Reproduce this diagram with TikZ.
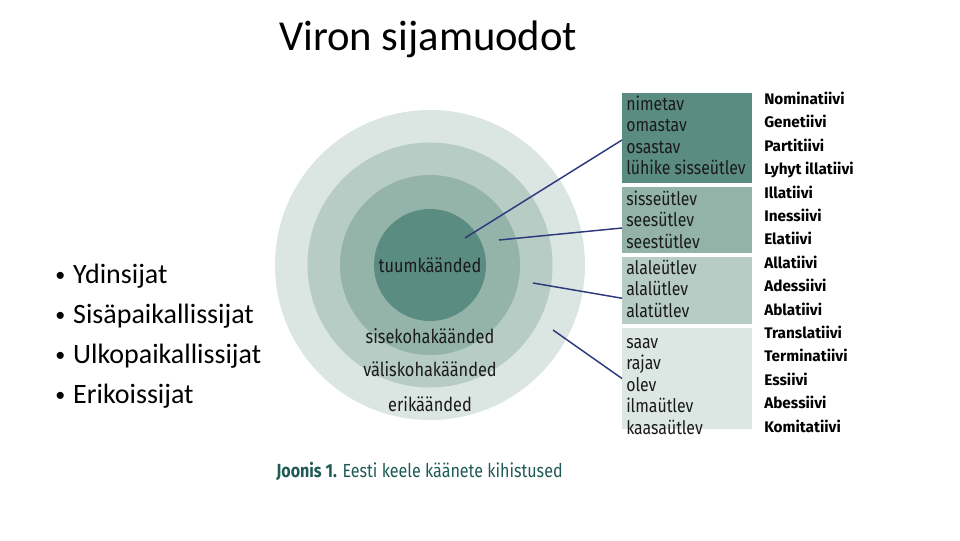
\documentclass[tikz,border=0pt]{standalone}
\usepackage{fontspec}
\setmainfont{Carlito}
\newfontfamily\boxfont[FakeStretch=0.85]{Fira Sans}
\newfontfamily\listfont{Fira Sans}
\definecolor{ringA}{HTML}{DBE5E1}
\definecolor{ringB}{HTML}{B7CCC5}
\definecolor{ringC}{HTML}{94B3A9}
\definecolor{ringD}{HTML}{5B8C81}
\definecolor{boxA}{HTML}{5B8C81}
\definecolor{boxB}{HTML}{93B3A9}
\definecolor{boxC}{HTML}{B6CCC5}
\definecolor{boxD}{HTML}{DCE6E2}
\definecolor{navy}{HTML}{2D3A7C}
\definecolor{captiongreen}{HTML}{1F5A55}
\definecolor{ink}{HTML}{1A1A1A}
\newcommand{\bulletmark}{\raisebox{1.2pt}{\fontsize{15}{18}\selectfont •}\hspace{6pt}}
\tikzset{
  ring/.style={circle, inner sep=0pt, outer sep=0pt, draw=none},
  casebox/.style={rectangle, anchor=north west, inner sep=0pt, outer sep=0pt, minimum width=97.5pt},
  boxtext/.style={anchor=north west, inner sep=0pt, align=left, font=\boxfont\fontsize{14}{16.1}\selectfont, text=ink},
  ringlabel/.style={anchor=base, inner sep=0pt, font=\boxfont\fontsize{14.4}{16}\selectfont, text=ink},
  caselist/.style={anchor=base west, inner sep=0pt, font=\listfont\bfseries\fontsize{11.5}{12}\selectfont, text=black},
  bullet/.style={anchor=base west, inner sep=0pt, font=\fontsize{21}{24}\selectfont, text=black},
  link/.style={draw=navy, line width=1.1pt}
}
\begin{document}
\begin{tikzpicture}[x=0.75pt,y=-0.75pt]
\useasboundingbox (0,0) rectangle (960,540);
% title
\node[anchor=base west, inner sep=0pt, font=\fontsize{32}{36}\selectfont] (title) at (279,50) {Viron sijamuodot};
% bullets
\node[bullet] (l1) at (55,283) {\bulletmark Ydinsijat};
\node[bullet] (l2) at (55,323) {\bulletmark Sisäpaikallissijat};
\node[bullet] (l3) at (55,363) {\bulletmark Ulkopaikallissijat};
\node[bullet] (l4) at (55,403) {\bulletmark Erikoissijat};
% circles
\node[ring, fill=ringA, minimum size=232.5pt] (cA) at (430,265) {};
\node[ring, fill=ringB, minimum size=183.75pt] (cB) at (430,265) {};
\node[ring, fill=ringC, minimum size=135pt] (cC) at (430,265) {};
\node[ring, fill=ringD, minimum size=84pt] (cD) at (430,265) {};
\node[ringlabel] (tD) at (430,272) {tuumkäänded};
\node[ringlabel] (tC) at (430,343) {sisekohakäänded};
\node[ringlabel] (tB) at (430,376) {väliskohakäänded};
\node[ringlabel] (tA) at (430,411) {erikäänded};
% boxes
\node[casebox, fill=boxA, minimum height=67.5pt] (b1) at (622,93) {};
\node[casebox, fill=boxB, minimum height=49.5pt] (b2) at (622,187) {};
\node[casebox, fill=boxC, minimum height=50.25pt] (b3) at (622,257) {};
\node[casebox, fill=boxD, minimum height=75.75pt] (b4) at (622,328) {};
\node[boxtext] (x1) at (626,95) {\strut nimetav\\omastav\\osastav\\lühike sisseütlev};
\node[boxtext] (x2) at (626,190) {\strut sisseütlev\\seesütlev\\seestütlev};
\node[boxtext] (x3) at (626,259) {\strut alaleütlev\\alalütlev\\alatütlev};
\node[boxtext] (x4) at (626,333) {\strut saav\\rajav\\olev\\ilmaütlev\\kaasaütlev};
% connectors
\coordinate (p1) at (465,238);
\coordinate (p2) at (499,240);
\coordinate (p3) at (533,283);
\coordinate (p4) at (553,330);
\draw[link] (p1) -- ([yshift=-1.5pt]b1.west);
\draw[link] (p2) -- ([yshift=-6pt]b2.west);
\draw[link] (p3) -- ([yshift=-5.8pt]b3.west);
\draw[link] (p4) -- (b4.west);
% case list
\node[caselist] (n1) at (764,104.5) {Nominatiivi};
\node[caselist] (n2) at (764,127.9) {Genetiivi};
\node[caselist] (n3) at (764,151.3) {Partitiivi};
\node[caselist] (n4) at (764,174.7) {Lyhyt illatiivi};
\node[caselist] (n5) at (764,198.1) {Illatiivi};
\node[caselist] (n6) at (764,221.5) {Inessiivi};
\node[caselist] (n7) at (764,244.9) {Elatiivi};
\node[caselist] (n8) at (764,268.3) {Allatiivi};
\node[caselist] (n9) at (764,291.7) {Adessiivi};
\node[caselist] (n10) at (764,315.1) {Ablatiivi};
\node[caselist] (n11) at (764,338.5) {Translatiivi};
\node[caselist] (n12) at (764,361.9) {Terminatiivi};
\node[caselist] (n13) at (764,385.3) {Essiivi};
\node[caselist] (n14) at (764,408.7) {Abessiivi};
\node[caselist] (n15) at (764,432.1) {Komitatiivi};
% caption
\node[anchor=base west, inner sep=0pt, font=\boxfont\fontsize{14.2}{16}\selectfont, text=captiongreen] (cap) at (276,477) {\textbf{Joonis 1.} Eesti keele käänete kihistused};
\end{tikzpicture}
\end{document}
